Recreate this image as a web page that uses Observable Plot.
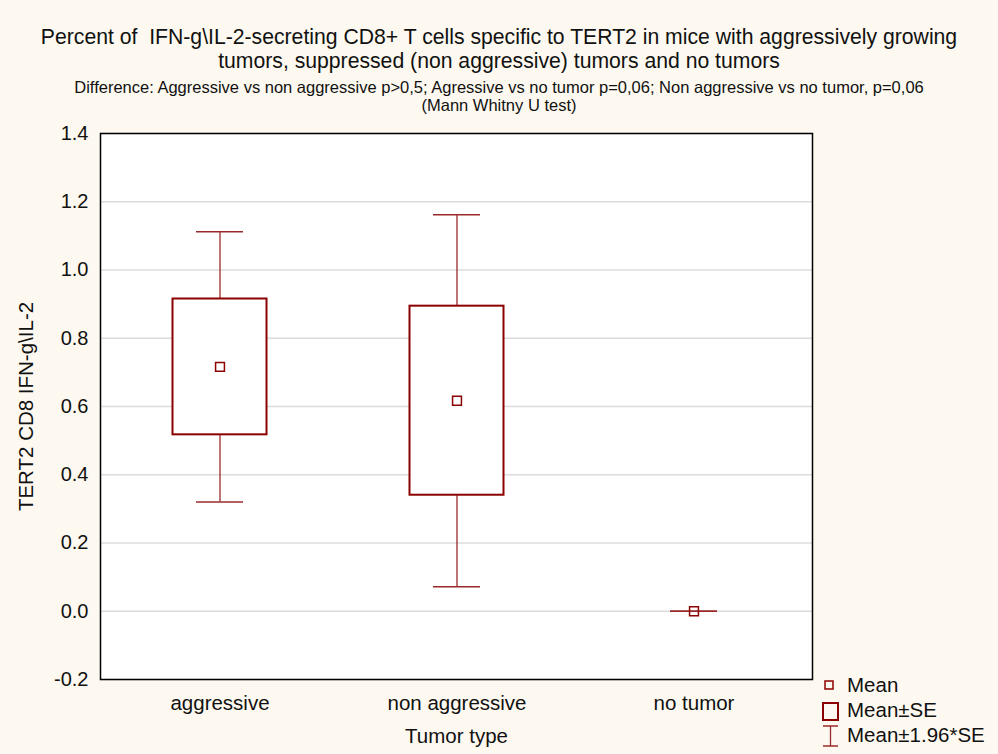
<!DOCTYPE html>
<html>
<head>
<meta charset="utf-8">
<script src="https://cdn.jsdelivr.net/npm/d3@7"></script>
<script src="https://cdn.jsdelivr.net/npm/@observablehq/plot@0.6"></script>
<style>
  html, body { margin: 0; padding: 0; background: #fdf9f0; }
  #wrap { position: relative; width: 998px; height: 754px; background: #fdf9f0; font-family: "Liberation Sans", Arial, sans-serif; color: #111; overflow: hidden; }
  #head { height: 115px; position: relative; }
  .t1 { position: absolute; left: 0; width: 998px; text-align: center; font-size: 21.2px; line-height: 24px; white-space: nowrap; }
  .t2 { position: absolute; left: 0; width: 998px; text-align: center; font-size: 16.5px; line-height: 19px; white-space: nowrap; }
  #legend { position: absolute; left: 815px; top: 672px; }
</style>
</head>
<body>
<div id="wrap">
  <div id="head">
    <div class="t1" style="top:25px">Percent of&nbsp; IFN-g\IL-2-secreting CD8+ T cells specific to TERT2 in mice with aggressively growing</div>
    <div class="t1" style="top:49px">tumors, suppressed (non aggressive) tumors and no tumors</div>
    <div class="t2" style="top:78px">Difference: Aggressive vs non aggressive p&gt;0,5; Agressive vs no tumor p=0,06; Non aggressive vs no tumor, p=0,06</div>
    <div class="t2" style="top:96px">(Mann Whitny U test)</div>
  </div>
  <div id="chart"></div>
  <svg id="legend" width="183" height="82"></svg>
</div>
<script>
const categories = ["aggressive", "non aggressive", "no tumor"];
const means  = [0.716, 0.617, 0.0];
const seLow  = [0.517, 0.340, 0.0];
const seHigh = [0.915, 0.894, 0.0];
const ciLow  = [0.320, 0.072, 0.0];
const ciHigh = [1.112, 1.162, 0.0];
const yTicks = [-0.2, 0.0, 0.2, 0.4, 0.6, 0.8, 1.0, 1.2, 1.4];
const legendLabels = ["Mean", "Mean\u00b1SE", "Mean\u00b11.96*SE"];

const data = categories.map((c, i) => ({
  cat: c, mean: means[i], seLow: seLow[i], seHigh: seHigh[i], ciLow: ciLow[i], ciHigh: ciHigh[i]
}));

const red = "#8b0000";
const whisk = "#9a2a2a";

const chart = Plot.plot({
  width: 998,
  height: 639,
  marginTop: 18,
  marginBottom: 75,
  marginLeft: 100,
  marginRight: 186,
  style: { background: "transparent", fontFamily: "'Liberation Sans', Arial, sans-serif", fontSize: "20px", color: "#111" },
  x: { domain: categories, padding: 0, label: null },
  y: { domain: [-0.2, 1.4], label: null },
  marks: [
    Plot.frame({ fill: "white", stroke: "none" }),
    Plot.gridY(yTicks, { stroke: "#dcdcdc", strokeOpacity: 1, strokeWidth: 1.5 }),
    Plot.axisY(yTicks, { tickFormat: d => d.toFixed(1), tickSize: 0, tickPadding: 12, label: null, fontSize: 20 }),
    Plot.axisX({ tickSize: 0, tickPadding: 16, label: null, fontSize: 20.5 }),
    Plot.ruleX(data, { x: "cat", y1: "ciLow", y2: "ciHigh", stroke: whisk, strokeWidth: 1.3 }),
    Plot.tickY(data, { x: "cat", y: "ciLow", stroke: whisk, strokeWidth: 1.5, inset: 95 }),
    Plot.tickY(data, { x: "cat", y: "ciHigh", stroke: whisk, strokeWidth: 1.5, inset: 95 }),
    Plot.barY(data.filter(d => d.seHigh > d.seLow), { x: "cat", y1: "seLow", y2: "seHigh", fill: "white", stroke: red, strokeWidth: 2, insetLeft: 71.5, insetRight: 71.5 }),
    Plot.dot(data, { x: "cat", y: "mean", symbol: "square", r: 5, stroke: red, strokeWidth: 1.5, fill: "none" }),
    Plot.frame({ stroke: "#000", strokeWidth: 1.5 }),
    Plot.text(["TERT2 CD8 IFN-g\\IL-2"], { frameAnchor: "left", textAnchor: "middle", rotate: -90, dx: -74, fontSize: 20.5 }),
    Plot.text(["Tumor type"], { frameAnchor: "bottom", dy: 63, fontSize: 20.5 })
  ]
});
document.getElementById("chart").appendChild(chart);

// legend
const lg = d3.select("#legend");
lg.append("rect").attr("x", 10).attr("y", 9).attr("width", 8).attr("height", 8).attr("fill", "none").attr("stroke", red).attr("stroke-width", 1.5);
lg.append("rect").attr("x", 8).attr("y", 31).attr("width", 15).attr("height", 17).attr("fill", "none").attr("stroke", red).attr("stroke-width", 2);
lg.append("line").attr("x1", 15.5).attr("x2", 15.5).attr("y1", 54).attr("y2", 74).attr("stroke", whisk).attr("stroke-width", 1.3);
lg.append("line").attr("x1", 8).attr("x2", 23).attr("y1", 54).attr("y2", 54).attr("stroke", whisk).attr("stroke-width", 1.5);
lg.append("line").attr("x1", 8).attr("x2", 23).attr("y1", 74).attr("y2", 74).attr("stroke", whisk).attr("stroke-width", 1.5);
legendLabels.forEach((t, i) => {
  lg.append("text").attr("x", 32).attr("y", 20 + i * 25).attr("font-size", 20.5).attr("fill", "#111")
    .attr("font-family", "'Liberation Sans', Arial, sans-serif").text(t);
});
</script>
</body>
</html>
